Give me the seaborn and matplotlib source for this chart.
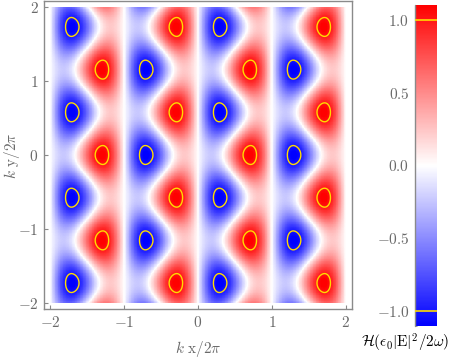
import matplotlib
matplotlib.use("Agg")
import matplotlib.pyplot as plt
import numpy as np
import pandas as pd
import seaborn as sns
from matplotlib.colors import LinearSegmentedColormap
from matplotlib.ticker import MultipleLocator

# field H(kx, ky) = sum_i amp_i * sin(qx_i * kx) * cos(qy_i * ky), k in units of 2*pi
AMPLITUDES = [-0.635, 0.635]
QX = [2 * np.pi, np.pi]
QY = [0.0, np.sqrt(3) * np.pi]
K_MIN, K_MAX = -2.0, 2.0
N_GRID = 400

H_LIMITS = [-1.1, 1.1]
CONTOUR_LEVELS = [-1.0, 1.0]
AXIS_TICKS = [-2, -1, 0, 1, 2]
CBAR_TICKS = [-1.0, -0.5, 0.0, 0.5, 1.0]

GRAY = "#8a8a8a"
TEXT_GRAY = "#6a6a6a"
YELLOW = "#ffdc00"

sns.set_style("white")
plt.rcParams["mathtext.fontset"] = "cm"
plt.rcParams["font.family"] = ["DejaVu Serif"]

# grid of cell centres, rows go from top (ky = 2) to bottom (ky = -2)
k = K_MIN + (np.arange(N_GRID) + 0.5) * (K_MAX - K_MIN) / N_GRID
KX, KY = np.meshgrid(k, k[::-1])
H = np.zeros_like(KX)
for a, qx, qy in zip(AMPLITUDES, QX, QY):
    H += a * np.sin(qx * KX) * np.cos(qy * KY)
field = pd.DataFrame(H)

cmap = LinearSegmentedColormap.from_list("bwr_m", ["#0000ff", "#ffffff", "#ff0000"])

fig = plt.figure(figsize=(4.57, 3.59), dpi=100)
ax = fig.add_axes([44 / 457, 1 - 309 / 359, 308 / 457, 308 / 359])
cax = fig.add_axes([415 / 457, 1 - 326 / 359, 22 / 457, 321 / 359])

sns.heatmap(
    field,
    cmap=cmap,
    vmin=H_LIMITS[0],
    vmax=H_LIMITS[1],
    ax=ax,
    cbar_ax=cax,
    xticklabels=False,
    yticklabels=False,
    rasterized=True,
)

# contours of |H| = 1 in heatmap cell coordinates
cells = np.arange(N_GRID) + 0.5
ax.contour(cells, cells, H, levels=CONTOUR_LEVELS, colors=YELLOW,
           linewidths=1.0, linestyles="solid")

scale = N_GRID / (K_MAX - K_MIN)
pad = 0.083 * scale
ax.set_xlim(-pad, N_GRID + pad)
ax.set_ylim(N_GRID + pad, -pad)

ax.set_xticks([(v - K_MIN) * scale for v in AXIS_TICKS])
ax.set_xticklabels([f"${v}$" for v in AXIS_TICKS])
ax.set_yticks([(K_MAX - v) * scale for v in AXIS_TICKS])
ax.set_yticklabels([f"${v}$" for v in AXIS_TICKS])
ax.tick_params(axis="both", which="major", direction="in", length=3, width=0.8,
               color=GRAY, labelcolor=TEXT_GRAY, labelsize=11,
               bottom=True, left=True, top=False, right=False, pad=4)
for spine in ax.spines.values():
    spine.set_visible(True)
    spine.set_color(GRAY)
    spine.set_linewidth(1.0)

fig.text(198 / 457, 1 - 349 / 359, r"$k\ \mathrm{x}/2\pi$", ha="center", va="center",
         color=TEXT_GRAY, fontsize=11)
fig.text(12 / 457, 1 - 156 / 359, r"$k\ \mathrm{y}/2\pi$", ha="center", va="center",
         rotation=90, color=TEXT_GRAY, fontsize=11)

# colorbar
cbar = ax.collections[0].colorbar
cbar.outline.set_visible(False)
cbar.set_ticks(CBAR_TICKS)
cbar.set_ticklabels([f"${v:.1f}$" for v in CBAR_TICKS])
cax.yaxis.set_minor_locator(MultipleLocator(0.1))
cax.yaxis.set_ticks_position("left")
cax.tick_params(axis="y", which="both", direction="in", color=GRAY,
                labelcolor=TEXT_GRAY, labelsize=11, left=True, right=False, pad=4)
cax.tick_params(axis="y", which="major", length=3, width=0.8)
cax.tick_params(axis="y", which="minor", length=1.5, width=0.6)
cax.plot([0, 0], [0, 1], transform=cax.transAxes, color=GRAY, lw=1.0, clip_on=False)
for level in CONTOUR_LEVELS:
    cax.axhline(level, color=YELLOW, lw=1.2)

fig.text(405 / 457, 1 - 343 / 359, r"$\mathcal{H}(\epsilon_0|\mathrm{E}|^2/2\omega)$",
         ha="center", va="center", color="black", fontsize=11)

fig.savefig("out.png", dpi=100)
